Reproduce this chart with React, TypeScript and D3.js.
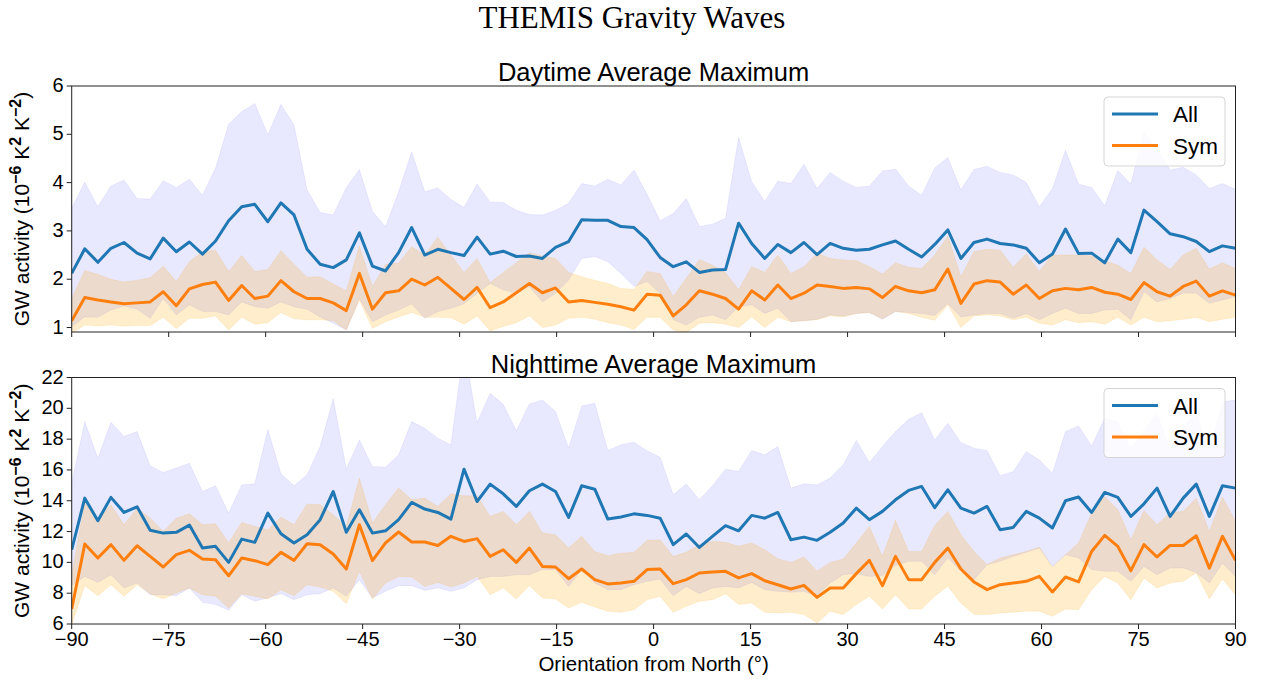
import React, { useEffect, useRef } from 'react';
import * as d3 from 'd3';

// Daytime panel: "All" mean and band, "Sym" mean and band
const topAll = [
  2.12, 2.63, 2.35, 2.64, 2.76, 2.54, 2.42, 2.85, 2.57, 2.77, 2.52, 2.79, 3.21, 3.5, 3.55, 3.19, 3.58, 3.33, 2.62, 2.31, 2.24, 2.4, 2.96,
  2.27, 2.17, 2.55, 3.07, 2.5, 2.62, 2.55, 2.49, 2.87, 2.52, 2.58, 2.47, 2.48, 2.43, 2.66, 2.78, 3.23, 3.22, 3.22, 3.09, 3.07, 2.82,
  2.45, 2.26, 2.36, 2.14, 2.19, 2.2, 3.16, 2.74, 2.43, 2.72, 2.55, 2.76, 2.51, 2.74, 2.64, 2.6, 2.62, 2.71, 2.79, 2.62, 2.46, 2.72,
  3.02, 2.43, 2.76, 2.83, 2.74, 2.71, 2.64, 2.34, 2.52, 3.04, 2.53, 2.54, 2.34, 2.83, 2.55, 3.43, 3.19, 2.94, 2.88, 2.78, 2.57, 2.69, 2.64,
];
const topAllHi = [
  3.47, 4.01, 3.5, 3.93, 4.05, 3.67, 3.66, 4.04, 3.9, 4.07, 3.74, 4.3, 5.21, 5.47, 5.64, 4.99, 5.62, 5.19, 3.85, 3.38, 3.33, 3.9, 4.27,
  3.4, 3.09, 3.81, 4.64, 3.81, 3.89, 3.65, 3.49, 3.97, 3.6, 3.59, 3.43, 3.34, 3.33, 3.43, 3.57, 3.98, 3.93, 4.07, 3.95, 4.26, 3.76,
  3.21, 3.36, 3.67, 3.09, 3.14, 3.26, 4.94, 4.02, 3.61, 4.03, 3.98, 4.38, 3.88, 4.21, 4.03, 3.9, 3.93, 4.24, 4.28, 3.93, 3.74, 4.3,
  4.52, 3.85, 4.27, 4.34, 4.21, 4.16, 4.0, 3.5, 3.88, 4.67, 3.97, 3.9, 3.52, 4.25, 3.97, 5.05, 4.69, 4.26, 4.32, 4.16, 3.88, 3.98, 3.86,
];
const topAllLo = [
  1.02, 1.22, 1.21, 1.36, 1.45, 1.38, 1.19, 1.6, 1.26, 1.47, 1.33, 1.33, 1.26, 1.53, 1.43, 1.4, 1.53, 1.43, 1.38, 1.22, 1.09, 0.95, 1.6,
  1.12, 1.26, 1.36, 1.49, 1.19, 1.33, 1.4, 1.49, 1.71, 1.91, 1.78, 1.71, 1.85, 1.53, 1.71, 1.98, 2.43, 2.47, 2.36, 2.12, 1.85, 1.95,
  1.71, 1.16, 1.05, 1.21, 1.26, 1.16, 1.43, 1.47, 1.29, 1.4, 1.12, 1.14, 1.17, 1.26, 1.24, 1.29, 1.31, 1.17, 1.33, 1.31, 1.29, 1.25,
  1.49, 1.22, 1.26, 1.29, 1.29, 1.19, 1.29, 1.16, 1.29, 1.4, 1.29, 1.29, 1.36, 1.38, 1.16, 1.74, 1.53, 1.6, 1.71, 1.71, 1.5, 1.57, 1.64,
];
const topSym = [
  1.14, 1.62, 1.57, 1.53, 1.49, 1.51, 1.53, 1.74, 1.45, 1.8, 1.89, 1.94, 1.56, 1.87, 1.6, 1.65, 1.97, 1.74, 1.6, 1.6, 1.51, 1.35, 2.12,
  1.38, 1.72, 1.76, 2.0, 1.88, 2.04, 1.81, 1.58, 1.83, 1.41, 1.53, 1.72, 1.91, 1.72, 1.82, 1.53, 1.56, 1.52, 1.48, 1.43, 1.36, 1.69,
  1.67, 1.24, 1.47, 1.76, 1.69, 1.6, 1.38, 1.76, 1.57, 1.88, 1.6, 1.71, 1.88, 1.85, 1.81, 1.83, 1.8, 1.62, 1.85, 1.76, 1.72, 1.78,
  2.21, 1.5, 1.9, 1.97, 1.94, 1.69, 1.88, 1.6, 1.76, 1.81, 1.78, 1.83, 1.73, 1.69, 1.58, 1.93, 1.74, 1.65, 1.85, 1.96, 1.65, 1.76, 1.67,
];
const topSymHi = [
  1.6, 2.18, 2.1, 2.0, 1.94, 1.98, 2.03, 2.27, 1.95, 2.36, 2.57, 2.6, 2.16, 2.49, 2.16, 2.2, 2.59, 2.31, 2.04, 2.05, 1.9, 1.76, 2.69,
  1.85, 2.31, 2.33, 2.67, 2.5, 2.87, 2.5, 2.14, 2.43, 1.93, 2.14, 2.34, 2.55, 2.48, 2.43, 2.14, 2.05, 1.98, 1.91, 1.81, 1.79, 2.16,
  2.12, 1.64, 2.02, 2.41, 2.29, 2.14, 1.78, 2.26, 2.14, 2.5, 2.12, 2.26, 2.54, 2.43, 2.4, 2.38, 2.26, 2.11, 2.34, 2.25, 2.22, 2.5,
  2.89, 2.05, 2.57, 2.62, 2.6, 2.25, 2.52, 2.16, 2.5, 2.5, 2.5, 2.48, 2.38, 2.29, 2.12, 2.66, 2.4, 2.2, 2.5, 2.64, 2.21, 2.34, 2.22,
];
const topSymLo = [
  0.88, 1.05, 1.03, 1.05, 1.03, 1.04, 1.04, 1.21, 0.98, 1.19, 1.19, 1.24, 0.95, 1.21, 1.07, 1.1, 1.31, 1.18, 1.16, 1.16, 1.14, 0.95, 1.57,
  0.98, 1.12, 1.22, 1.31, 1.21, 1.21, 1.2, 1.07, 1.24, 0.93, 1.02, 1.1, 1.24, 1.0, 1.05, 1.19, 1.21, 1.17, 1.1, 1.05, 0.96, 1.21,
  1.21, 0.95, 0.89, 1.09, 1.1, 1.07, 1.0, 1.22, 1.0, 1.21, 1.12, 1.14, 1.16, 1.24, 1.22, 1.29, 1.31, 1.18, 1.33, 1.29, 1.21, 1.15,
  1.47, 1.0, 1.24, 1.26, 1.24, 1.16, 1.21, 1.09, 1.05, 1.16, 1.1, 1.12, 1.07, 1.21, 1.05, 1.21, 1.12, 1.14, 1.17, 1.21, 1.12, 1.17, 1.21,
];

// Nighttime panel
const botAll = [
  10.82, 14.17, 12.7, 14.22, 13.24, 13.61, 12.08, 11.9, 11.95, 12.42, 10.93, 11.04, 10.0, 11.51, 11.3, 13.2, 11.86, 11.26, 11.79, 12.77, 14.6, 11.95, 13.41,
  11.9, 12.05, 12.77, 13.89, 13.46, 13.24, 12.81, 16.05, 13.95, 15.08, 14.45, 13.63, 14.65, 15.08, 14.6, 12.92, 14.97, 14.75, 12.81, 12.94, 13.15, 13.05,
  12.87, 11.15, 11.84, 10.97, 11.69, 12.38, 12.05, 13.05, 12.87, 13.24, 11.47, 11.64, 11.43, 11.95, 12.55, 13.52, 12.77, 13.31, 14.06, 14.67, 14.93, 13.55,
  14.71, 13.52, 13.2, 13.63, 12.12, 12.27, 13.31, 12.87, 12.23, 14.0, 14.24, 13.24, 14.54, 14.22, 12.98, 13.8, 14.82, 12.98, 14.17, 15.08, 12.98, 14.97, 14.82,
];
const botAllHi = [
  15.14, 19.14, 16.76, 19.09, 18.17, 18.49, 16.27, 15.84, 16.12, 16.44, 14.6, 14.97, 13.2, 15.03, 15.1, 18.64, 15.75, 14.97, 15.68, 17.52, 20.65, 16.05, 17.95,
  16.22, 16.18, 16.98, 19.14, 18.71, 18.06, 17.63, 24.0, 19.07, 20.97, 20.26, 18.55, 20.28, 20.54, 19.79, 17.41, 20.15, 20.33, 17.26, 17.63, 17.8, 17.25,
  16.82, 14.39, 15.08, 14.06, 14.97, 16.05, 15.9, 17.26, 16.98, 17.52, 14.82, 15.1, 15.03, 15.47, 16.33, 17.91, 16.48, 17.52, 18.49, 19.29, 19.72, 17.95,
  19.03, 17.78, 17.41, 17.26, 15.62, 15.9, 17.19, 16.65, 15.79, 18.49, 18.86, 17.56, 19.35, 19.14, 17.41, 18.6, 19.68, 17.3, 18.81, 19.68, 17.19, 20.43, 20.54,
];
const botAllLo = [
  8.5, 9.09, 8.7, 9.2, 8.34, 8.66, 7.9, 7.9, 7.84, 8.34, 7.41, 7.26, 6.89, 7.9, 7.47, 7.69, 7.97, 7.58, 7.9, 7.97, 8.34, 7.8, 8.88,
  7.69, 8.12, 8.49, 8.49, 8.18, 8.34, 8.12, 8.34, 8.88, 9.09, 9.09, 9.2, 9.2, 9.53, 9.53, 8.44, 9.53, 8.66, 8.23, 8.23, 8.55, 8.77,
  8.92, 7.84, 8.44, 7.97, 8.34, 8.44, 8.34, 8.7, 8.23, 8.12, 8.06, 8.12, 7.8, 8.66, 9.2, 9.27, 9.09, 9.14, 9.79, 10.07, 10.07, 9.2,
  10.28, 9.42, 8.88, 9.85, 10.07, 10.39, 10.65, 10.93, 9.74, 10.5, 10.28, 9.53, 9.42, 9.42, 8.77, 9.74, 9.2, 9.63, 9.63, 9.35, 8.66, 9.95, 9.09,
];
const botSym = [
  6.98, 11.19, 10.28, 11.15, 10.13, 11.08, 10.39, 9.7, 10.5, 10.78, 10.22, 10.17, 9.13, 10.28, 10.11, 9.85, 10.65, 10.13, 11.21, 11.15, 10.54, 9.57, 12.44,
  10.11, 11.26, 11.97, 11.32, 11.32, 11.1, 11.69, 11.36, 11.54, 10.39, 10.82, 10.0, 10.93, 9.74, 9.7, 8.94, 9.57, 8.88, 8.6, 8.66, 8.77, 9.53,
  9.57, 8.62, 8.88, 9.31, 9.37, 9.42, 8.99, 9.27, 8.81, 8.55, 8.27, 8.51, 7.73, 8.34, 8.34, 9.27, 10.13, 8.49, 10.39, 8.88, 8.88, 10.0,
  10.93, 9.57, 8.73, 8.23, 8.55, 8.66, 8.77, 9.09, 8.08, 9.05, 8.73, 10.71, 11.75, 11.04, 9.46, 11.15, 10.35, 11.1, 11.1, 11.73, 9.63, 11.69, 10.13,
];
const botSymHi = [
  9.2, 13.85, 12.77, 13.74, 12.44, 13.52, 12.87, 12.01, 12.87, 13.15, 12.44, 12.51, 11.26, 12.59, 12.33, 12.12, 12.94, 12.44, 13.78, 13.74, 13.09, 12.33, 15.47,
  12.55, 13.74, 14.82, 14.06, 14.17, 13.63, 14.45, 14.32, 14.32, 12.98, 13.31, 12.44, 13.31, 11.9, 11.79, 10.93, 11.69, 10.71, 10.43, 10.6, 10.65, 11.43,
  11.47, 10.39, 10.65, 11.15, 11.36, 11.3, 11.04, 11.26, 10.82, 10.24, 10.0, 10.35, 9.42, 10.0, 10.22, 11.26, 12.33, 10.39, 12.73, 10.71, 10.71, 12.4,
  13.31, 11.8, 10.71, 9.85, 10.28, 10.5, 10.71, 11.0, 9.7, 10.5, 11.26, 13.2, 14.28, 13.41, 11.47, 13.37, 12.44, 13.24, 13.31, 14.17, 12.01, 14.24, 12.66,
];
const botSymLo = [
  5.96, 8.49, 7.84, 8.55, 7.8, 8.55, 7.97, 7.63, 8.01, 8.34, 7.9, 7.8, 7.04, 7.97, 7.8, 7.63, 8.23, 7.84, 8.55, 8.4, 8.12, 7.32, 9.42,
  7.63, 8.66, 9.09, 9.05, 8.44, 8.7, 8.4, 8.66, 9.09, 7.9, 8.34, 7.63, 8.49, 7.69, 7.63, 7.04, 7.41, 7.11, 6.83, 6.76, 6.93, 7.58,
  7.8, 6.76, 7.15, 7.47, 7.58, 7.97, 7.26, 7.37, 6.76, 6.72, 6.76, 6.61, 6.07, 6.83, 6.61, 7.26, 7.8, 6.98, 7.9, 6.98, 6.98, 7.8,
  8.45, 7.37, 6.61, 6.61, 6.72, 6.76, 6.83, 6.83, 6.5, 6.98, 6.93, 8.23, 9.09, 8.66, 7.58, 8.99, 8.34, 8.66, 8.77, 9.31, 7.63, 8.92, 7.9,
];

// orientation bins, evenly spaced from -90 to 90
const orientation = topAll.map((_, i) => -90 + (i * 180) / (topAll.length - 1));
const xTicks = [-90, -75, -60, -45, -30, -15, 0, 15, 30, 45, 60, 75, 90];
const topYTicks = [1, 2, 3, 4, 5, 6];
const botYTicks = [6, 8, 10, 12, 14, 16, 18, 20, 22];

const SANS = '"Liberation Sans", Arial, Helvetica, sans-serif';
const BLUE = '#1f77b4';
const ORANGE = '#ff7f0e';

interface PanelSpec {
  id: string;
  title: string;
  top: number;
  bottom: number;
  domain: [number, number];
  yTicks: number[];
  all: number[];
  allLo: number[];
  allHi: number[];
  sym: number[];
  symLo: number[];
  symHi: number[];
  xLabels: boolean;
}

const panels: PanelSpec[] = [
  { id: 'day', title: 'Daytime Average Maximum', top: 86, bottom: 332, domain: [0.907, 6], yTicks: topYTicks,
    all: topAll, allLo: topAllLo, allHi: topAllHi, sym: topSym, symLo: topSymLo, symHi: topSymHi, xLabels: false },
  { id: 'night', title: 'Nighttime Average Maximum', top: 377.5, bottom: 624, domain: [6, 22], yTicks: botYTicks,
    all: botAll, allLo: botAllLo, allHi: botAllHi, sym: botSym, symLo: botSymLo, symHi: botSymHi, xLabels: true },
];

const fmt = (d: number) => (d < 0 ? '\u2212' + Math.abs(d) : String(d));

export default function App() {
  const ref = useRef<SVGSVGElement>(null);

  useEffect(() => {
    if (!ref.current) return;
    const svg = d3.select(ref.current);
    svg.selectAll('*').remove();

    const x = d3.scaleLinear().domain([-90, 90]).range([71.7, 1235.5]);

    svg.append('text')
      .attr('x', 632).attr('y', 28)
      .attr('text-anchor', 'middle')
      .style('font-family', '"Liberation Serif", "Times New Roman", serif')
      .style('font-size', '31px')
      .text('THEMIS Gravity Waves');

    panels.forEach(p => {
      const y = d3.scaleLinear().domain(p.domain).range([p.bottom, p.top]);
      const g = svg.append('g');

      g.append('clipPath').attr('id', `clip-${p.id}`)
        .append('rect')
        .attr('x', x(-90)).attr('y', p.top)
        .attr('width', x(90) - x(-90)).attr('height', p.bottom - p.top);

      const plot = g.append('g').attr('clip-path', `url(#clip-${p.id})`);

      const band = (lo: number[], hi: number[]) => d3.area<number>()
        .x((_, i) => x(orientation[i]))
        .y0((_, i) => y(lo[i]))
        .y1((_, i) => y(hi[i]))(lo) as string;

      const line = (vals: number[]) => d3.line<number>()
        .x((_, i) => x(orientation[i]))
        .y(d => y(d))(vals) as string;

      plot.append('path').attr('d', band(p.allLo, p.allHi))
        .attr('fill', 'blue').attr('fill-opacity', 0.09)
        .attr('stroke', 'blue').attr('stroke-opacity', 0.06).attr('stroke-width', 1);
      plot.append('path').attr('d', band(p.symLo, p.symHi))
        .attr('fill', '#ffa500').attr('fill-opacity', 0.2)
        .attr('stroke', '#ffa500').attr('stroke-opacity', 0.12).attr('stroke-width', 1);
      plot.append('path').attr('d', line(p.all))
        .attr('fill', 'none').attr('stroke', BLUE).attr('stroke-width', 3).attr('stroke-linejoin', 'round');
      plot.append('path').attr('d', line(p.sym))
        .attr('fill', 'none').attr('stroke', ORANGE).attr('stroke-width', 3).attr('stroke-linejoin', 'round');

      // frame
      g.append('rect')
        .attr('x', x(-90)).attr('y', p.top)
        .attr('width', x(90) - x(-90)).attr('height', p.bottom - p.top)
        .attr('fill', 'none').attr('stroke', '#222').attr('stroke-width', 1);

      // x ticks
      xTicks.forEach(t => {
        g.append('line')
          .attr('x1', x(t)).attr('x2', x(t))
          .attr('y1', p.bottom).attr('y2', p.bottom + 5)
          .attr('stroke', '#222').attr('stroke-width', 1);
        if (p.xLabels) {
          g.append('text')
            .attr('x', x(t)).attr('y', p.bottom + 22)
            .attr('text-anchor', 'middle')
            .style('font-family', SANS).style('font-size', '20px')
            .text(fmt(t));
        }
      });

      // y ticks
      p.yTicks.forEach(t => {
        g.append('line')
          .attr('x1', x(-90) - 5).attr('x2', x(-90))
          .attr('y1', y(t)).attr('y2', y(t))
          .attr('stroke', '#222').attr('stroke-width', 1);
        g.append('text')
          .attr('x', x(-90) - 8).attr('y', y(t) + 6)
          .attr('text-anchor', 'end')
          .style('font-family', SANS).style('font-size', '20px')
          .text(String(t));
      });

      // panel title
      g.append('text')
        .attr('x', (x(-90) + x(90)) / 2).attr('y', p.top - 5)
        .attr('text-anchor', 'middle')
        .style('font-family', SANS).style('font-size', '25.5px')
        .text(p.title);

      // y label
      const yl = g.append('text')
        .attr('transform', `translate(29,${(p.top + p.bottom) / 2}) rotate(-90)`)
        .attr('text-anchor', 'middle')
        .style('font-family', SANS).style('font-size', '21px');
      yl.append('tspan').text('GW activity (10');
      yl.append('tspan').attr('dy', -8).style('font-size', '16px').style('font-weight', 'bold').text('\u22126');
      yl.append('tspan').attr('dy', 8).text(' K');
      yl.append('tspan').attr('dy', -8).style('font-size', '16px').style('font-weight', 'bold').text('2');
      yl.append('tspan').attr('dy', 8).text(' K');
      yl.append('tspan').attr('dy', -8).style('font-size', '16px').style('font-weight', 'bold').text('\u22122');
      yl.append('tspan').attr('dy', 8).text(')');

      // legend
      const lx = 1104, ly = p.top + 11;
      const lg = g.append('g');
      lg.append('rect')
        .attr('x', lx).attr('y', ly).attr('width', 121).attr('height', 69).attr('rx', 4)
        .attr('fill', 'white').attr('fill-opacity', 0.8)
        .attr('stroke', '#d5d5d5').attr('stroke-width', 1);
      [{ name: 'All', color: BLUE }, { name: 'Sym', color: ORANGE }].forEach((e, i) => {
        const cy = ly + 17 + i * 31.5;
        lg.append('line')
          .attr('x1', lx + 8).attr('x2', lx + 54)
          .attr('y1', cy).attr('y2', cy)
          .attr('stroke', e.color).attr('stroke-width', 3);
        lg.append('text')
          .attr('x', lx + 69).attr('y', cy + 8)
          .style('font-family', SANS).style('font-size', '22.5px')
          .text(e.name);
      });
    });

    svg.append('text')
      .attr('x', (x(-90) + x(90)) / 2).attr('y', 671)
      .attr('text-anchor', 'middle')
      .style('font-family', SANS).style('font-size', '20.5px')
      .text('Orientation from North (\u00b0)');
  }, []);

  return (
    <svg ref={ref} width={1263} height={679}
      style={{ position: 'absolute', left: 0, top: 0, background: 'white', display: 'block' }} />
  );
}
